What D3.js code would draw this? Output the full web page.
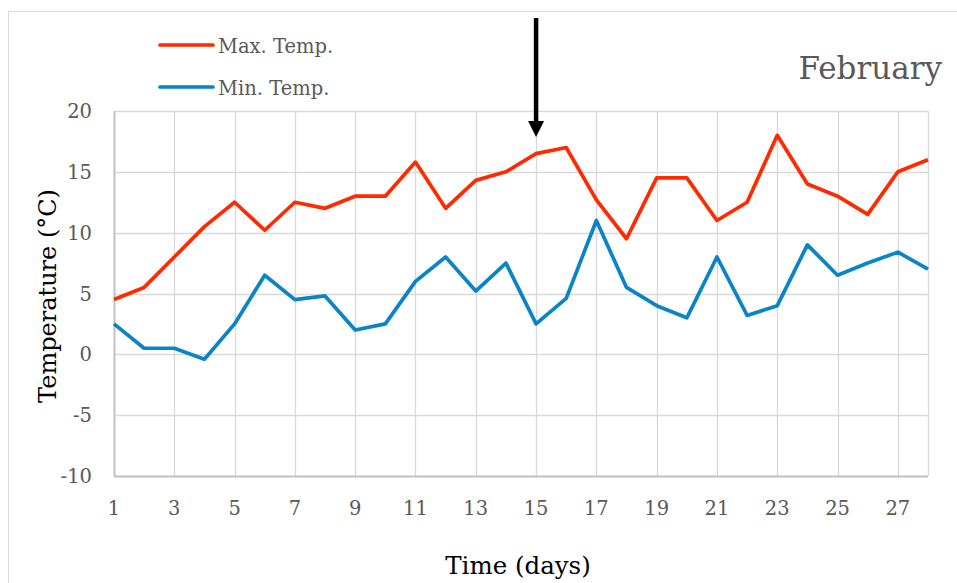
<!DOCTYPE html>
<html>
<head>
<meta charset="utf-8">
<script src="https://cdn.jsdelivr.net/npm/d3@7"></script>
<style>
  body { margin: 0; background: #fff; }
  svg { display: block; font-family: "DejaVu Serif", serif; }
</style>
</head>
<body>
<div id="chart"></div>
<script>
const days = d3.range(1, 29);
const maxTemp = [4.5, 5.5, 8, 10.5, 12.5, 10.2, 12.5, 12, 13, 13, 15.8, 12, 14.3, 15,
  16.5, 17, 12.7, 9.5, 14.5, 14.5, 11, 12.5, 18, 14, 13, 11.5, 15, 16];
const minTemp = [2.5, 0.5, 0.5, -0.4, 2.5, 6.5, 4.5, 4.8, 2, 2.5, 6, 8, 5.2, 7.5,
  2.5, 4.6, 11, 5.5, 4, 3, 8, 3.2, 4, 9, 6.5, 7.5, 8.4, 7];
const xTicks = d3.range(1, 29, 2);
const yTicks = [-10, -5, 0, 5, 10, 15, 20];
const arrowDay = 15;
const monthLabel = "February";

const series = [
  { name: "Max. Temp.", values: maxTemp, color: "#ff2a00" },
  { name: "Min. Temp.", values: minTemp, color: "#0a84c8" }
];

const W = 957, H = 583;
const margin = { top: 111, right: 29, bottom: 107, left: 114 };
const width = W - margin.left - margin.right;
const height = H - margin.top - margin.bottom;

const svg = d3.select("#chart").append("svg")
  .attr("width", W)
  .attr("height", H);

// outer chart border
svg.append("rect")
  .attr("x", 8.5).attr("y", 11.5)
  .attr("width", W).attr("height", H)
  .attr("fill", "none")
  .attr("stroke", "#d9d9d9");

const g = svg.append("g")
  .attr("transform", `translate(${margin.left},${margin.top})`);

const xScale = d3.scaleLinear().domain([1, 28]).range([0, width]);
const yScale = d3.scaleLinear().domain([-10, 20]).range([height, 0]);

// gridlines
g.append("g")
  .selectAll("line")
  .data(xTicks.concat([28]))
  .join("line")
  .attr("x1", d => Math.round(xScale(d)) + 0.5)
  .attr("x2", d => Math.round(xScale(d)) + 0.5)
  .attr("y1", 0).attr("y2", height)
  .attr("stroke", "#d9d9d9").attr("stroke-width", 1.3);

g.append("g")
  .selectAll("line")
  .data(yTicks)
  .join("line")
  .attr("x1", 0).attr("x2", width)
  .attr("y1", d => Math.round(yScale(d)) + 0.5)
  .attr("y2", d => Math.round(yScale(d)) + 0.5)
  .attr("stroke", d => d === -10 ? "#bfbfbf" : "#d9d9d9")
  .attr("stroke-width", d => d === -10 ? 1.8 : 1.3);

g.append("line")
  .attr("x1", 0.5).attr("x2", 0.5)
  .attr("y1", 0).attr("y2", height)
  .attr("stroke", "#bfbfbf").attr("stroke-width", 1.8);

// tick labels
g.append("g")
  .selectAll("text")
  .data(yTicks)
  .join("text")
  .attr("x", -22)
  .attr("y", d => yScale(d) + 7)
  .attr("text-anchor", "end")
  .attr("font-size", 19.5)
  .attr("fill", "#595959")
  .text(d => d);

g.append("g")
  .selectAll("text")
  .data(xTicks)
  .join("text")
  .attr("x", d => xScale(d))
  .attr("y", height + 39)
  .attr("text-anchor", "middle")
  .attr("font-size", 19.5)
  .attr("fill", "#595959")
  .text(d => d);

// lines
const line = d3.line()
  .x((d, i) => xScale(days[i]))
  .y(d => yScale(d));

series.forEach(s => {
  g.append("path")
    .datum(s.values)
    .attr("fill", "none")
    .attr("stroke", s.color)
    .attr("stroke-width", 3.7)
    .attr("stroke-linejoin", "round")
    .attr("d", line);
});

// axis titles
svg.append("text")
  .attr("transform", "translate(56, 296) rotate(-90)")
  .attr("text-anchor", "middle")
  .attr("font-size", 24)
  .attr("fill", "#000")
  .text("Temperature (°C)");

svg.append("text")
  .attr("x", 518)
  .attr("y", 574)
  .attr("text-anchor", "middle")
  .attr("font-size", 24.5)
  .attr("fill", "#000")
  .text("Time (days)");

// month label
svg.append("text")
  .attr("x", 942)
  .attr("y", 79)
  .attr("text-anchor", "end")
  .attr("font-size", 31)
  .attr("fill", "#595959")
  .text(monthLabel);

// legend
const legend = svg.append("g")
  .attr("transform", "translate(160, 45)");

legend.selectAll("g")
  .data(series)
  .join("g")
  .attr("transform", (d, i) => `translate(0, ${i * 42})`)
  .each(function (d) {
    const item = d3.select(this);
    item.append("line")
      .attr("x1", 0).attr("x2", 53)
      .attr("stroke", d.color)
      .attr("stroke-width", 3.7)
      .attr("stroke-linecap", "round");
    item.append("text")
      .attr("x", 58)
      .attr("y", 8)
      .attr("font-size", 19.5)
      .attr("fill", "#595959")
      .text(d.name);
  });

// arrow marking day 15
const ax = margin.left + xScale(arrowDay);
svg.append("line")
  .attr("x1", ax).attr("x2", ax)
  .attr("y1", 18).attr("y2", 124)
  .attr("stroke", "#000")
  .attr("stroke-width", 4.5);

svg.append("path")
  .attr("d", `M${ax - 8},${121} L${ax + 8},${121} L${ax},${137} Z`)
  .attr("fill", "#000");
</script>
</body>
</html>
